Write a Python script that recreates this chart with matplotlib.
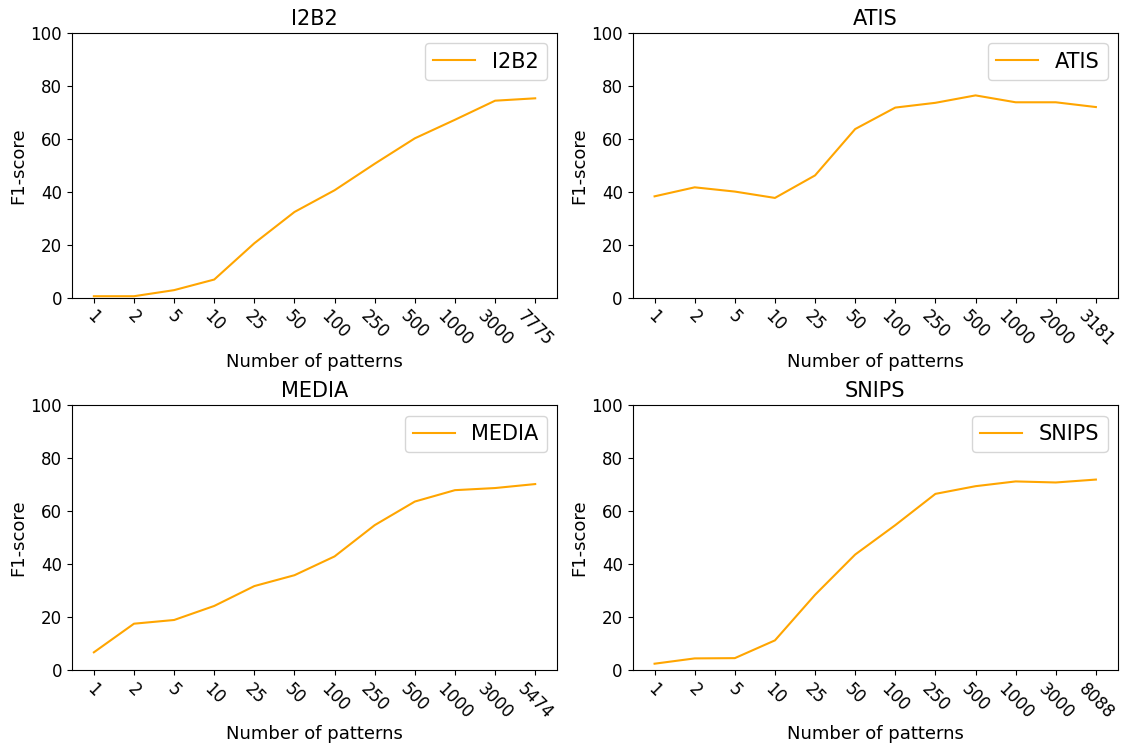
import matplotlib
matplotlib.use('Agg')
import matplotlib.pyplot as plt

# number of patterns (x tick labels) per dataset
i2b2_ticks = ['1', '2', '5', '10', '25', '50', '100', '250', '500', '1000', '3000', '7775']
atis_ticks = ['1', '2', '5', '10', '25', '50', '100', '250', '500', '1000', '2000', '3181']
media_ticks = ['1', '2', '5', '10', '25', '50', '100', '250', '500', '1000', '3000', '5474']
snips_ticks = ['1', '2', '5', '10', '25', '50', '100', '250', '500', '1000', '3000', '8088']

# F1-scores
i2b2_f1 = [0.6, 0.6, 2.9, 6.9, 20.6, 32.4, 40.6, 50.6, 60.2, 67.2, 74.4, 75.3]
atis_f1 = [38.3, 41.7, 40.1, 37.7, 46.2, 63.7, 71.8, 73.6, 76.4, 73.8, 73.8, 72.0]
media_f1 = [6.7, 17.5, 18.9, 24.2, 31.7, 35.8, 42.9, 54.7, 63.6, 67.9, 68.7, 70.2]
snips_f1 = [2.4, 4.4, 4.5, 11.2, 28.4, 43.6, 54.7, 66.5, 69.4, 71.2, 70.8, 71.9]

names = ['I2B2', 'ATIS', 'MEDIA', 'SNIPS']
all_ticks = [i2b2_ticks, atis_ticks, media_ticks, snips_ticks]
all_f1 = [i2b2_f1, atis_f1, media_f1, snips_f1]

fig, axes = plt.subplots(2, 2, figsize=(11.22, 7.47), dpi=100)
plt.subplots_adjust(left=0.064, right=0.9964, top=0.956, bottom=0.103,
                    wspace=0.155, hspace=0.405)

for ax, name, ticks, f1 in zip(axes.flat, names, all_ticks, all_f1):
    x = list(range(len(ticks)))
    ax.plot(x, f1, color='orange', label=name, linewidth=1.5)
    ax.set_ylim(0, 100)
    ax.set_xticks(x)
    ax.set_xticklabels(ticks, rotation=-45, fontsize=12)
    ax.tick_params(axis='y', labelsize=12)
    ax.set_title(name, fontsize=15)
    ax.set_xlabel('Number of patterns', fontsize=13, labelpad=2)
    ax.set_ylabel('F1-score', fontsize=13, labelpad=2)
    ax.legend(loc='upper right', fontsize=15)

plt.savefig('out.png')
